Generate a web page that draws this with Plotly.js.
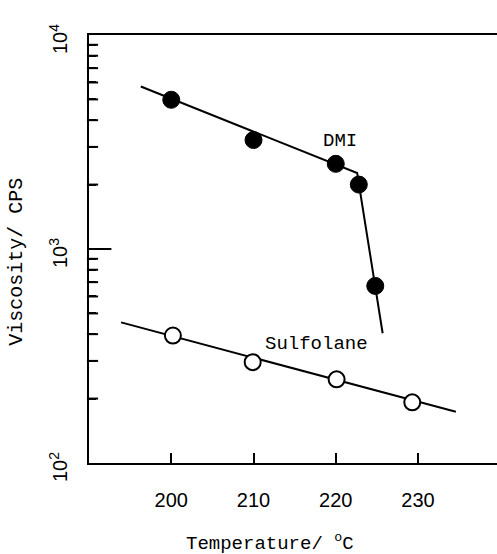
<!DOCTYPE html>
<html>
<head>
<meta charset="utf-8">
<script src="https://cdn.plot.ly/plotly-3.0.1.min.js"></script>
<style>html,body{margin:0;padding:0;background:#fff;}</style>
</head>
<body>
<div id="chart" style="width:497px;height:554px;"></div>
<script>
// Measured points
var dmiTemp = [200, 210, 220, 222.8, 224.8];
var dmiVisc = [4980, 3230, 2500, 2000, 672];
var sulfTemp = [200.2, 209.9, 220.1, 229.3];
var sulfVisc = [394, 296, 246, 192];
// Fitted lines
var dmiFitTemp = [196.3, 222.6, 225.7];
var dmiFitVisc = [5744, 2265, 404];
var sulfFitTemp = [193.9, 234.6];
var sulfFitVisc = [454, 173.5];
// Axes / ticks
var xRange = [190, 239.6];
var xTicks = [200, 210, 220, 230];
var yRangeLog = [2, 4];
var yTicks = [100, 200, 300, 400, 500, 600, 700, 800, 900,
              1000, 2000, 3000, 4000, 5000, 6000, 7000, 8000, 9000, 10000];
var yTickText = ['10<sup>2</sup>', '', '', '', '', '', '', '', '',
                 '10<sup>3</sup>', '', '', '', '', '', '', '', '', '10<sup>4</sup>'];
var yMinorTicks = [200, 300, 400, 500, 600, 700, 800, 900, 2000, 3000, 4000, 5000, 6000, 7000, 8000, 9000];
var yMajorTicks = [1000];

var mono = 'Courier New, Liberation Mono, monospace';
var sans = 'Arial, Liberation Sans, sans-serif';

var plotW = 497 - 89;
var unitPx = plotW / (xRange[1] - xRange[0]);
var minorX = xRange[0] + 3.5 / unitPx; // dash centre 3.5 px inside the left axis

var traces = [
  {x: dmiFitTemp, y: dmiFitVisc, mode: 'lines', line: {color: '#000', width: 2}, hoverinfo: 'skip'},
  {x: sulfFitTemp, y: sulfFitVisc, mode: 'lines', line: {color: '#000', width: 2}, hoverinfo: 'skip'},
  {x: dmiTemp, y: dmiVisc, mode: 'markers', marker: {symbol: 'circle', size: 17, color: '#000', line: {color: '#000', width: 1}}},
  {x: sulfTemp, y: sulfVisc, mode: 'markers', marker: {symbol: 'circle', size: 16, color: '#fff', line: {color: '#000', width: 2}}},
  // minor tick dashes just inside the left axis
  {x: yMinorTicks.map(function () { return minorX; }), y: yMinorTicks, mode: 'markers', cliponaxis: false,
   marker: {symbol: 'line-ew', size: 8, color: '#000', line: {color: '#000', width: 2}}, hoverinfo: 'skip'},
  // longer major tick at the inner decade (half of the dash is clipped outside the plot)
  {x: yMajorTicks.map(function () { return xRange[0]; }), y: yMajorTicks, mode: 'markers', cliponaxis: true,
   marker: {symbol: 'line-ew', size: 32, color: '#000', line: {color: '#000', width: 2}}, hoverinfo: 'skip'}
];

var layout = {
  width: 497, height: 554,
  margin: {l: 89, r: 0, t: 35, b: 91},
  paper_bgcolor: '#fff', plot_bgcolor: '#fff',
  showlegend: false,
  xaxis: {
    range: xRange,
    tickmode: 'array', tickvals: xTicks,
    ticks: 'inside', ticklen: 10, tickwidth: 2, tickcolor: '#000',
    showline: true, linecolor: '#000', linewidth: 2, mirror: true,
    showgrid: false, zeroline: false,
    tickfont: {family: sans, size: 20, color: '#000'},
    ticklabelstandoff: 18
  },
  yaxis: {
    type: 'log', range: yRangeLog,
    tickmode: 'array', tickvals: yTicks, ticktext: yTickText,
    ticks: 'inside', ticklen: 7, tickwidth: 2, tickcolor: '#000',
    tickangle: -90,
    showline: true, linecolor: '#000', linewidth: 2,
    showgrid: false, zeroline: false,
    tickfont: {family: sans, size: 20, color: '#000'},
    ticklabelstandoff: 12,
    ticklabelshift: 7
  },
  annotations: [
    {x: 220.5, y: 3.505, xref: 'x', yref: 'y', text: 'DMI', showarrow: false,
     font: {family: mono, size: 19, color: '#000'}},
    {x: 217.7, y: 2.556, xref: 'x', yref: 'y', text: 'Sulfolane', showarrow: false,
     font: {family: mono, size: 19, color: '#000'}},
    {x: 0.4436, y: -0.186, xref: 'paper', yref: 'paper', yanchor: 'middle', text: 'Temperature/ <sup>o</sup>C', showarrow: false,
     font: {family: mono, size: 19, color: '#000'}},
    {x: -0.21, y: 0.47, xref: 'paper', yref: 'paper', text: 'Viscosity/ CPS', showarrow: false, textangle: -90,
     font: {family: mono, size: 20, color: '#000'}}
  ]
};

Plotly.newPlot('chart', traces, layout, {staticPlot: true, displayModeBar: false});
</script>
</body>
</html>
